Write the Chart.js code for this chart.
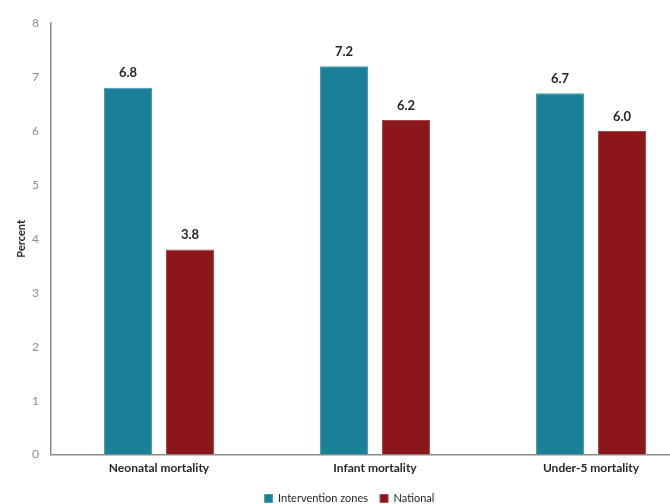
<!DOCTYPE html>
<html>
<head>
<meta charset="utf-8">
<script src="https://cdn.jsdelivr.net/npm/chart.js@4"></script>
<style>
  html, body { margin: 0; padding: 0; background: #fff; overflow: hidden; }
  #wrap { width: 670px; height: 504px; overflow: hidden; }
</style>
</head>
<body>
<div id="wrap"><canvas id="chart" width="702" height="504" style="width:702px;height:504px"></canvas></div>
<script>
// Chart data
const categories = ['Neonatal mortality', 'Infant mortality', 'Under-5 mortality'];
const interventionZones = [6.8, 7.2, 6.7];
const national = [3.8, 6.2, 6.0];
const yTicks = [0, 1, 2, 3, 4, 5, 6, 7, 8];

// draws the value above each bar
const valueLabels = {
  id: 'valueLabels',
  afterDatasetsDraw(chart) {
    const ctx = chart.ctx;
    ctx.save();
    ctx.font = 'bold 13px Lato';
    ctx.fillStyle = '#262626';
    ctx.textAlign = 'center';
    ctx.textBaseline = 'bottom';
    chart.data.datasets.forEach((ds, i) => {
      chart.getDatasetMeta(i).data.forEach((bar, j) => {
        ctx.fillText(ds.data[j].toFixed(1), bar.x, bar.y - 8);
      });
    });
    ctx.restore();
  }
};

new Chart(document.getElementById('chart'), {
  type: 'bar',
  data: {
    labels: categories,
    datasets: [{
      label: 'Intervention zones',
      data: interventionZones,
      backgroundColor: '#1a7f99',
      borderColor: '#4a9bb0',
      borderWidth: 1
    }, {
      label: 'National',
      data: national,
      backgroundColor: '#8b171b',
      borderColor: '#a5474a',
      borderWidth: 1
    }]
  },
  options: {
    responsive: false,
    animation: false,
    categoryPercentage: 0.574,
    barPercentage: 0.774,
    layout: { padding: { top: 23, left: 0, right: 3, bottom: -10 } },
    plugins: {
      legend: {
        position: 'bottom',
        labels: {
          boxWidth: 8,
          boxHeight: 8,
          padding: 12,
          color: '#262626',
          font: { family: 'Lato', size: 11 }
        }
      },
      tooltip: { enabled: false }
    },
    scales: {
      x: {
        grid: { display: false, drawTicks: false },
        border: { color: '#8c8c8c', width: 1.5 },
        ticks: {
          color: '#262626',
          padding: 6,
          font: { family: 'Lato', size: 12, weight: 'bold' }
        }
      },
      y: {
        min: 0,
        max: 8,
        afterBuildTicks: axis => { axis.ticks = yTicks.map(v => ({ value: v })); },
        grid: { display: false, drawTicks: false },
        border: { color: '#8c8c8c', width: 1.5 },
        afterFit: axis => { axis.width = 51; },
        title: {
          display: true,
          text: 'Percent',
          color: '#262626',
          padding: { top: 15, bottom: 0 },
          font: { family: 'Lato', size: 11, weight: 'bold' }
        },
        ticks: {
          color: '#8c8c8c',
          padding: 12,
          font: { family: 'Lato', size: 12 }
        }
      }
    }
  },
  plugins: [valueLabels]
});
</script>
</body>
</html>
